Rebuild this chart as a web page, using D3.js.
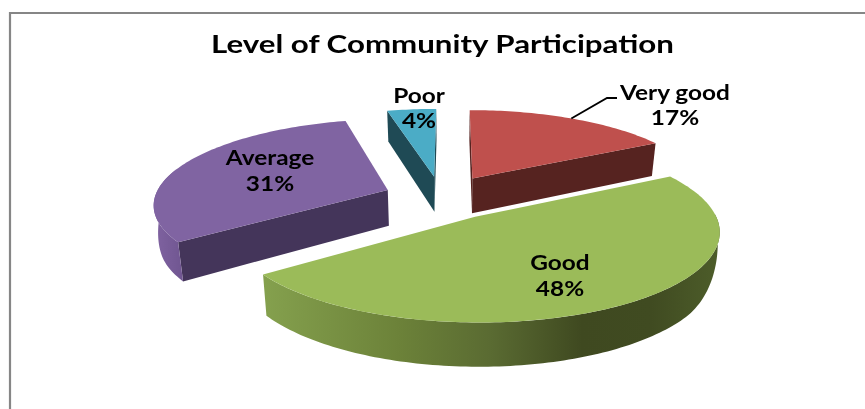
<!DOCTYPE html>
<html><head><meta charset="utf-8">
<script src="https://cdn.jsdelivr.net/npm/d3@7/dist/d3.min.js"></script>
<style>html,body{margin:0;padding:0;background:#fff;overflow:hidden}svg{display:block}text{font-family:Lato,"Open Sans",sans-serif;font-weight:700;fill:#000}</style>
</head><body><svg id="c" width="865" height="409"></svg>
<script>
const categories = ["Very good", "Good", "Average", "Poor"];
const values = [17, 48, 31, 4];
const percentLabels = ["17%", "48%", "31%", "4%"];
const chartTitle = "Level of Community Participation";
const topColors = ["#bf504d", "#9bbb59", "#8064a2", "#4bacc6"];
const wallColors = ["#562320", "#42491f", "#44355a", "#1f4a55"];
const rimColors = ["#562320", "url(#rimGood)", "url(#rimAvg)", "#1f4a55"];

// layout of the projected pie
const cx = 451, cy = 202, Rx = 235, Ry = 85, persp = 0.15, depth = 36.5, zShrink = 0.018;
const explodeX = [0.095, 0.1, -0.275, -0.075];
const explodeY = [0.29, -0.169, 0.145, 0.31];
const labelX = [675, 560, 270, 419];
const labelY = [[100, 125], [270, 296], [165, 191], [103, 128]];
const drawOrder = [3, 0, 2, 1];
const labelStretch = 1.22, titleStretch = 1.25;

const svg = d3.select("#c");
const defs = svg.append("defs");
function grad(id, x1, x2, stops) {
  const g = defs.append("linearGradient").attr("id", id)
    .attr("gradientUnits", "userSpaceOnUse")
    .attr("x1", x1).attr("x2", x2).attr("y1", 0).attr("y2", 0);
  stops.forEach(s => g.append("stop").attr("offset", s[0]).attr("stop-color", s[1]));
}
grad("rimGood", 261, 720, [[0, "#85a14e"], [0.3, "#6c8239"], [0.5, "#5a6b32"], [0.7, "#3f4920"], [0.85, "#404b21"], [1, "#4d5d2a"]]);
grad("rimAvg", 154, 184, [[0, "#8063a1"], [1, "#6f5590"]]);

// frame
svg.append("path").attr("d", d3.line()([[10, 409], [10, 13], [865, 13]]))
  .attr("fill", "none").attr("stroke", "#868686").attr("stroke-width", 2.2);

const pie = d3.pie().sort(null).value(d => d);
const arcs = pie(values);
const line = d3.line();
const deg = Math.PI / 180;

function project(i, r, a, z) {
  const X = r * Math.sin(a) + explodeX[i];
  const Y = r * Math.cos(a) + explodeY[i];
  const s = 1 / (1 + persp * Y);
  return [cx + Rx * X * s * (1 - zShrink * z), cy - Ry * Y * s + z * depth * s];
}
// the side band narrows to nothing where it reaches the outline of the top face
const silhouetteR = 88 * deg, silhouetteL = 285 * deg, taper = 40 * deg;
function rimDepth(a) {
  const t = Math.min(1, Math.max(0, Math.min(a - silhouetteR, silhouetteL - a) / taper));
  return Math.sin(t * Math.PI / 2);
}
function arcPts(i, a0, a1, zf) {
  const n = Math.max(2, Math.ceil((a1 - a0) / 0.02));
  return d3.range(n + 1).map(k => {
    const a = a0 + (a1 - a0) * k / n;
    return project(i, 1, a, zf(a));
  });
}

const g = svg.append("g").attr("style", "filter:blur(0.4px)");
drawOrder.forEach(i => {
  const a0 = arcs[i].startAngle, a1 = arcs[i].endAngle;
  const apex = project(i, 0, 0, 0), apexB = project(i, 0, 0, 1);
  [a0, a1].forEach((a, j) => {
    const c = project(i, 1, a, 0), cB = project(i, 1, a, 1);
    const visible = j === 0 ? c[0] < apex[0] : c[0] > apex[0];
    if (visible) g.append("path").attr("d", line([apex, c, cB, apexB]) + "Z").attr("fill", wallColors[i]);
  });
  const r0 = Math.max(a0, silhouetteR), r1 = Math.min(a1, silhouetteL);
  if (r1 > r0) {
    const pts = arcPts(i, r0, r1, () => 0).concat(arcPts(i, r0, r1, rimDepth).reverse());
    g.append("path").attr("d", line(pts) + "Z").attr("fill", rimColors[i]);
  }
  g.append("path").attr("d", line([apex].concat(arcPts(i, a0, a1, () => 0))) + "Z").attr("fill", topColors[i]);
});

// leader line
const lead = project(0, 1, arcs[0].startAngle + 0.53, 0);
svg.append("path").attr("d", line([lead, [607, 98], [617, 98]]))
  .attr("fill", "none").attr("stroke", "#000").attr("stroke-width", 1.8);

function stretchedText(x, y, size, str, stretch) {
  const t = svg.append("text").attr("x", x).attr("y", y).attr("text-anchor", "middle")
    .attr("font-size", size).attr("style", "filter:blur(0.35px)").text(str);
  t.attr("textLength", t.node().getComputedTextLength() * stretch).attr("lengthAdjust", "spacingAndGlyphs");
}
stretchedText(442.5, 53, 25, chartTitle, titleStretch);
categories.forEach((c, i) => {
  stretchedText(labelX[i], labelY[i][0], 20, c, labelStretch);
  stretchedText(labelX[i], labelY[i][1], 20, percentLabels[i], labelStretch);
});
</script></body></html>
